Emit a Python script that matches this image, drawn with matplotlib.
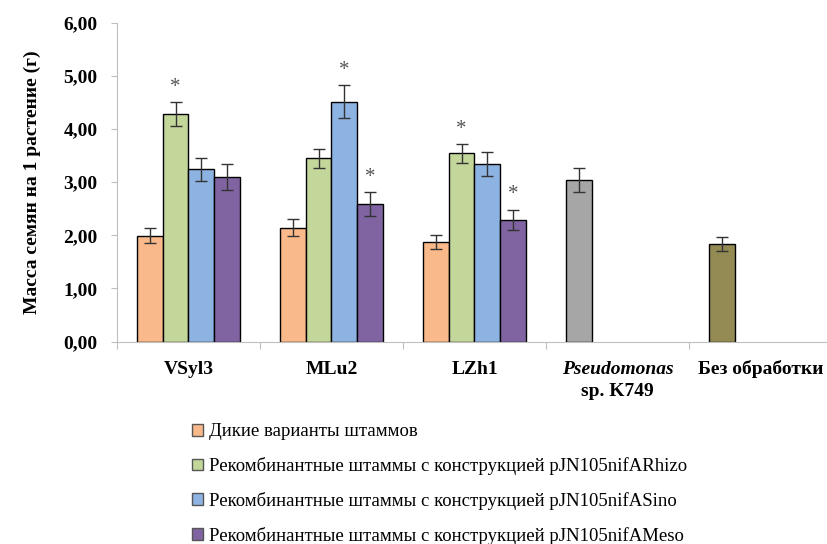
import numpy as np
import matplotlib.pyplot as plt
from matplotlib.patches import Patch

plt.rcParams['font.family'] = 'serif'
plt.rcParams['font.serif'] = ['Liberation Serif', 'DejaVu Serif']

# seed mass per plant, g (mean and error), three strains x four variants
strains = ['VSyl3', 'MLu2', 'LZh1']
wild = [1.99, 2.14, 1.88]
wild_err = [0.14, 0.16, 0.13]
rhizo = [4.28, 3.45, 3.54]
rhizo_err = [0.22, 0.18, 0.18]
sino = [3.24, 4.51, 3.34]
sino_err = [0.22, 0.31, 0.23]
meso = [3.10, 2.59, 2.29]
meso_err = [0.25, 0.22, 0.19]

# controls
pseudo_val, pseudo_err = 3.04, 0.22
untreated_val, untreated_err = 1.84, 0.13

# which bars carry a significance mark: (series index, strain index)
stars = [(1, 0), (2, 1), (3, 1), (1, 2), (3, 2)]

series = [wild, rhizo, sino, meso]
series_err = [wild_err, rhizo_err, sino_err, meso_err]
colors = ['#FAB98A', '#C4D79B', '#8DB3E2', '#8064A2']
legend_labels = ['Дикие варианты штаммов',
                 'Рекомбинантные штаммы с конструкцией pJN105nifARhizo',
                 'Рекомбинантные штаммы с конструкцией pJN105nifASino',
                 'Рекомбинантные штаммы с конструкцией pJN105nifAMeso']

fig = plt.figure(figsize=(8.28, 5.44), dpi=100)
ax = fig.add_axes([0.1413, 0.372, 0.8635, 0.5864])

w = 0.18
x = np.arange(len(strains))
err_kw = dict(ecolor='#333333', elinewidth=1, capsize=4, capthick=1)
for i, (vals, errs) in enumerate(zip(series, series_err)):
    pos = x + (i - 1.5) * w
    ax.bar(pos, vals, w, color=colors[i], edgecolor='black', linewidth=1,
           yerr=errs, error_kw=err_kw, zorder=2)

for si, gi in stars:
    v = series[si][gi] + series_err[si][gi]
    ax.text(gi + (si - 1.5) * w, v + 0.1, '*', ha='center', va='bottom',
            fontsize=15, color='#555555')

ax.bar(3 - 1.5 * w, pseudo_val, w, color='#A6A6A6', edgecolor='black',
       linewidth=1, yerr=pseudo_err, error_kw=err_kw, zorder=2)
ax.bar(4 - 1.5 * w, untreated_val, w, color='#948A54', edgecolor='black',
       linewidth=1, yerr=untreated_err, error_kw=err_kw, zorder=2)

ax.set_xlim(-0.5, 4.5)
ax.set_ylim(0, 6)
ax.set_yticks(np.arange(0, 7, 1))
ax.set_yticklabels([f'{v:.2f}'.replace('.', ',') for v in range(7)],
                   fontsize=14, fontweight='bold')
ax.set_ylabel('Масса семян на 1 растение (г)', fontsize=14,
              fontweight='bold', labelpad=16)

ax.set_xticks(np.arange(-0.5, 5, 1))
ax.set_xticklabels([])
ax.tick_params(axis='x', length=5, color='#BFBFBF', direction='out')
ax.tick_params(axis='y', length=4, color='#BFBFBF', direction='out', pad=10)

for s in ['top', 'right']:
    ax.spines[s].set_visible(False)
for s in ['left', 'bottom']:
    ax.spines[s].set_color('#BFBFBF')

# category names under the axis
lab_y = -0.52
for i, name in enumerate(strains):
    ax.text(i, lab_y, name, ha='center', va='center', fontsize=14,
            fontweight='bold')
ax.text(3, lab_y, 'Pseudomonas', ha='center', va='center', fontsize=14,
        fontweight='bold', style='italic')
ax.text(3, lab_y - 0.42, 'sp. K749', ha='center', va='center', fontsize=14,
        fontweight='bold')
ax.text(4, lab_y, 'Без обработки', ha='center', va='center', fontsize=14,
        fontweight='bold')

handles = [Patch(facecolor=c, edgecolor='#555555', linewidth=1) for c in colors]
fig.legend(handles, legend_labels, loc='upper left',
           bbox_to_anchor=(0.232, 0.222), frameon=False, fontsize=13.5,
           handlelength=0.6, handleheight=0.6, handletextpad=0.3,
           labelspacing=0.9, borderaxespad=0, borderpad=0)

fig.savefig('out.png', dpi=100)
